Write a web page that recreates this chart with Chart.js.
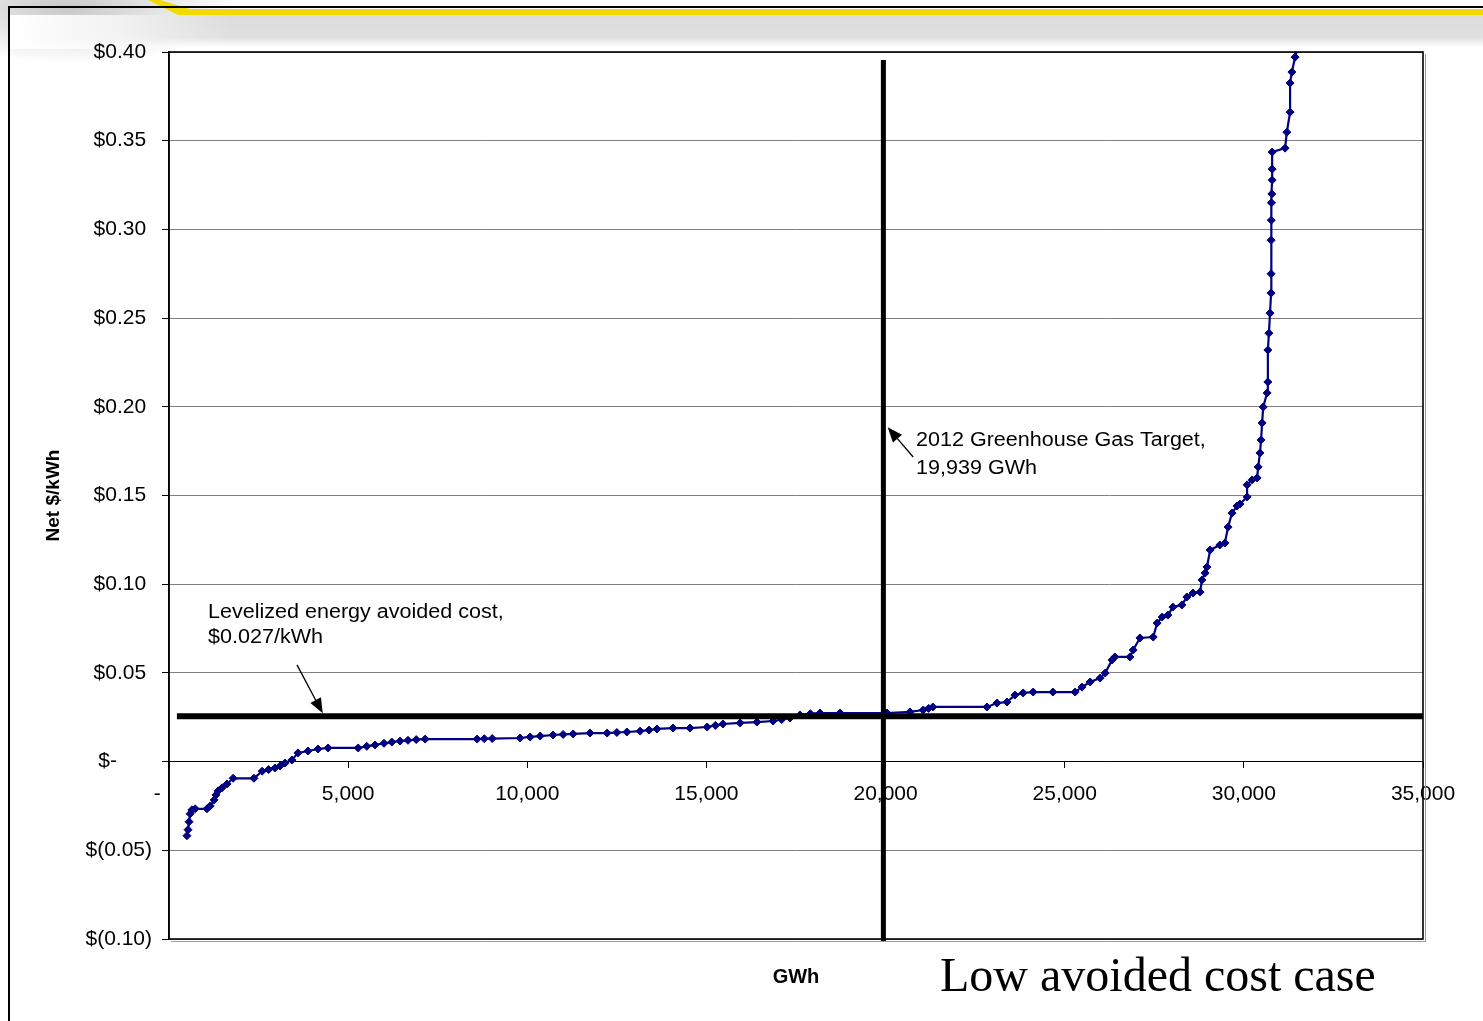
<!DOCTYPE html>
<html>
<head>
<meta charset="utf-8">
<script src="https://cdn.jsdelivr.net/npm/chart.js@4.4.1/dist/chart.umd.min.js"></script>
<style>
  html, body { margin: 0; padding: 0; background: #fff; }
  #wrap { position: relative; width: 1483px; height: 1021px; overflow: hidden; background: #fff; }
  .d { position: absolute; }
  canvas { position: absolute; left: 0; top: 0; }
  #xtitle { position: absolute; left: 746px; width: 100px; top: 966px; text-align: center;
            font: bold 20px "Liberation Sans", Arial, sans-serif; line-height: 20px; }
  #case { position: absolute; left: 940px; top: 951px; white-space: nowrap;
          font: 48px "Liberation Serif", "Times New Roman", serif; line-height: 48px; }
</style>
</head>
<body>
<div id="wrap">
  <!-- slide decoration -->
  <div class="d" style="left:0;top:0;width:260px;height:80px;background:radial-gradient(ellipse 170px 55px at 70px 8px, rgba(190,190,190,0.85), rgba(255,255,255,0) 100%);"></div>
  <div class="d" style="left:10px;top:15px;width:1473px;height:32px;background:linear-gradient(to bottom, #dcdcdc 0%, #e0e0e0 70%, rgba(235,235,235,0) 100%);"></div>
  <div class="d" style="left:10px;top:15px;width:220px;height:34px;background:linear-gradient(to right, #fff 0%, rgba(255,255,255,0.6) 50%, rgba(255,255,255,0) 100%);"></div>
  <div class="d" style="left:178px;top:9px;width:1305px;height:6px;background:#f0da00;"></div>
  <div class="d" style="left:140px;top:0;width:50px;height:15px;background:#f0da00;clip-path:polygon(8px 0, 20px 0, 50px 9px, 50px 15px, 38px 15px);"></div>
  <div class="d" style="left:8px;top:6px;width:1475px;height:2px;background:#000;"></div>
  <div class="d" style="left:8px;top:6px;width:2px;height:1015px;background:#000;"></div>

  <canvas id="chart" width="1483" height="1021"></canvas>
  <div id="xtitle">GWh</div>
  <div id="case">Low avoided cost case</div>
</div>

<script>
// supply curve: cumulative GWh vs net $/kWh
const gwh = [
  500, 530, 560, 590, 640, 730, 1060, 1150, 1260, 1310, 1370, 1480, 1620, 1790, 2370,
  2600, 2780, 2960, 3100, 3240, 3430, 3600, 3880, 4160, 4440, 5280, 5520, 5750, 6000,
  6220, 6450, 6670, 6900, 7150, 8600, 8800, 9020, 9800, 10080, 10360, 10720, 11000,
  11280, 11750, 12230, 12500, 12780, 13150, 13400, 13620, 14070, 14540, 15020, 15250,
  15460, 15940, 16410, 16860, 17100, 17330, 17610, 17900, 18170, 18730, 20040, 20680,
  21050, 21200, 21320, 22830, 23110, 23390, 23610, 23840, 24120, 24670, 25290, 25480,
  25710, 25990, 26130, 26320, 26400, 26820, 26910, 27100, 27470, 27580, 27720, 27880,
  28020, 28270, 28410, 28580, 28780, 28830, 28920, 28970, 29060, 29330, 29470, 29560,
  29670, 29810, 29890, 30090, 30090, 30230, 30370, 30400, 30450, 30480, 30510, 30540,
  30650, 30670, 30670, 30700, 30730, 30760, 30760, 30760, 30765, 30770, 30780, 30790,
  30790, 30790, 31150, 31200, 31290, 31290, 31340, 31430, 31460
];
const netCost = [
  -0.0418, -0.0384, -0.0339, -0.0294, -0.0272, -0.0266, -0.0266, -0.0250, -0.0216, -0.0188,
  -0.0165, -0.0148, -0.0126, -0.0094, -0.0094, -0.0054, -0.0045, -0.0036, -0.0025, -0.0008,
  0.0009, 0.0049, 0.0060, 0.0071, 0.0077, 0.0077, 0.0086, 0.0094, 0.0103, 0.0110, 0.0116,
  0.0120, 0.0124, 0.0127, 0.0127, 0.0129, 0.0130, 0.0133, 0.0139, 0.0144, 0.0150, 0.0153,
  0.0156, 0.0161, 0.0161, 0.0164, 0.0167, 0.0172, 0.0178, 0.0184, 0.0189, 0.0189, 0.0195,
  0.0204, 0.0212, 0.0218, 0.0223, 0.0229, 0.0237, 0.0246, 0.0263, 0.0270, 0.0274, 0.0274,
  0.0274, 0.0280, 0.0291, 0.0300, 0.0308, 0.0308, 0.0330, 0.0336, 0.0375, 0.0387, 0.0392,
  0.0392, 0.0392, 0.0420, 0.0449, 0.0471, 0.0499, 0.0573, 0.0590, 0.0590, 0.0629, 0.0697,
  0.0702, 0.0781, 0.0815, 0.0826, 0.0871, 0.0883, 0.0928, 0.0950, 0.0956, 0.1024, 0.1063,
  0.1097, 0.1193, 0.1221, 0.1232, 0.1322, 0.1401, 0.1441, 0.1452, 0.1492, 0.1560, 0.1588,
  0.1599, 0.1661, 0.1740, 0.1813, 0.1909, 0.1999, 0.2078, 0.2140, 0.2320, 0.2415, 0.2528,
  0.2641, 0.2750, 0.2939, 0.3052, 0.3150, 0.3200, 0.3278, 0.3340, 0.3436, 0.3458, 0.3548,
  0.3661, 0.3825, 0.3887, 0.3971, 0.4010
];

// reference lines
const avoidedCost = 0.0255;     // levelized energy avoided cost line
const avoidedCostStart = 220;   // line starts just right of the axis
const targetGWh = 19939;        // 2012 GHG target
const targetTop = 0.3955;

const xTicks = [0, 5000, 10000, 15000, 20000, 25000, 30000, 35000];
const yMin = -0.10, yMax = 0.40, yStep = 0.05;

const noteTarget = ['2012 Greenhouse Gas Target,', '19,939 GWh'];
const noteAvoided = ['Levelized energy avoided cost,', '$0.027/kWh'];

Chart.defaults.font.family = '"Liberation Sans", Arial, sans-serif';
Chart.defaults.color = '#000';

function yLabel(v) {
  const r = Math.round(v * 100) / 100;
  if (r === 0) return '$-      ';
  if (r < 0) return '$(' + (-r).toFixed(2) + ')';
  return '$' + r.toFixed(2) + ' ';
}

function arrow(ctx, x1, y1, x2, y2) {
  const ang = Math.atan2(y2 - y1, x2 - x1);
  const len = 15, half = 6;
  ctx.beginPath();
  ctx.moveTo(x1, y1);
  ctx.lineTo(x2 - Math.cos(ang) * len * 0.8, y2 - Math.sin(ang) * len * 0.8);
  ctx.lineWidth = 1.3;
  ctx.stroke();
  ctx.beginPath();
  ctx.moveTo(x2, y2);
  ctx.lineTo(x2 - Math.cos(ang) * len - Math.sin(ang) * half, y2 - Math.sin(ang) * len + Math.cos(ang) * half);
  ctx.lineTo(x2 - Math.cos(ang) * len + Math.sin(ang) * half, y2 - Math.sin(ang) * len - Math.cos(ang) * half);
  ctx.closePath();
  ctx.fill();
}

// Excel text in the picture is a bit wider than Arial, so stretch it slightly
function wideText(ctx, text, px, py) {
  ctx.save();
  ctx.translate(px, py);
  ctx.scale(1.077, 1);
  ctx.fillText(text, 0, 0);
  ctx.restore();
}

const notes = {
  id: 'notes',
  afterDraw(chart) {
    const { ctx, chartArea: a, scales: { x, y } } = chart;
    ctx.save();
    // plot frame with a faint shadow
    ctx.strokeStyle = '#9a9a9a';
    ctx.lineWidth = 1;
    ctx.beginPath();
    ctx.moveTo(a.left + 2, a.bottom + 2.5);
    ctx.lineTo(a.right + 2.5, a.bottom + 2.5);
    ctx.lineTo(a.right + 2.5, a.top + 2);
    ctx.stroke();
    ctx.strokeStyle = '#000';
    ctx.lineWidth = 1.6;
    ctx.strokeRect(a.left, a.top, a.right - a.left, a.bottom - a.top);

    ctx.fillStyle = '#000';
    ctx.strokeStyle = '#000';
    arrow(ctx, x.getPixelForValue(20770), y.getPixelForValue(0.1717),
               x.getPixelForValue(20060), y.getPixelForValue(0.1885));
    arrow(ctx, x.getPixelForValue(3573), y.getPixelForValue(0.0545),
               x.getPixelForValue(4290), y.getPixelForValue(0.0272));

    ctx.font = '20px "Liberation Sans", Arial, sans-serif';
    ctx.textBaseline = 'middle';
    ctx.textAlign = 'left';
    wideText(ctx, noteTarget[0], x.getPixelForValue(20850), y.getPixelForValue(0.1812));
    wideText(ctx, noteTarget[1], x.getPixelForValue(20850), y.getPixelForValue(0.1655));
    wideText(ctx, noteAvoided[0], x.getPixelForValue(1089), y.getPixelForValue(0.0843));
    wideText(ctx, noteAvoided[1], x.getPixelForValue(1089), y.getPixelForValue(0.0697));
    ctx.restore();
  }
};

new Chart(document.getElementById('chart'), {
  type: 'scatter',
  data: {
    datasets: [
      {
        label: 'Supply curve',
        data: gwh.map((g, i) => ({ x: g, y: netCost[i] })),
        showLine: true,
        borderColor: '#000080',
        borderWidth: 2.2,
        pointStyle: 'rectRot',
        pointRadius: 4,
        pointBackgroundColor: '#000080',
        pointBorderColor: '#000080',
        pointBorderWidth: 1,
        order: 2
      },
      {
        label: 'Avoided cost',
        data: [{ x: avoidedCostStart, y: avoidedCost }, { x: xTicks[xTicks.length - 1], y: avoidedCost }],
        showLine: true,
        borderColor: '#000',
        borderWidth: 6,
        pointRadius: 0,
        order: 1
      },
      {
        label: 'GHG target',
        data: [{ x: targetGWh, y: targetTop }, { x: targetGWh, y: yMin - 0.0015 }],
        showLine: true,
        borderColor: '#000',
        borderWidth: 5,
        pointRadius: 0,
        clip: false,
        order: 0
      }
    ]
  },
  options: {
    responsive: false,
    devicePixelRatio: 1,
    animation: false,
    layout: { padding: { left: 0, top: 52, right: 60, bottom: 82 } },
    plugins: { legend: { display: false }, tooltip: { enabled: false } },
    scales: {
      x: {
        type: 'linear',
        position: { y: 0 },
        min: xTicks[0],
        max: xTicks[xTicks.length - 1],
        afterBuildTicks: s => { s.ticks = xTicks.map(v => ({ value: v })); },
        ticks: {
          font: { size: 21 },
          padding: 14,
          maxRotation: 0,
          autoSkip: false,
          callback: v => v === 0 ? '-    ' : v.toLocaleString('en-US')
        },
        grid: { drawOnChartArea: false, drawTicks: true, tickLength: 6, tickColor: '#000' },
        border: { display: true, color: '#000', width: 1 }
      },
      y: {
        type: 'linear',
        min: yMin,
        max: yMax,
        afterFit: s => { s.width = 169; },
        ticks: {
          stepSize: yStep,
          font: { size: 21 },
          padding: 10,
          callback: v => yLabel(v)
        },
        grid: { color: '#808080', lineWidth: 1, tickColor: '#000', tickLength: 7 },
        border: { display: true, color: '#000', width: 1.5 },
        title: {
          display: true,
          text: 'Net $/kWh',
          font: { size: 19, weight: 'bold' },
          padding: { top: 42, bottom: 0 }
        }
      }
    }
  },
  plugins: [notes]
});
</script>
</body>
</html>
